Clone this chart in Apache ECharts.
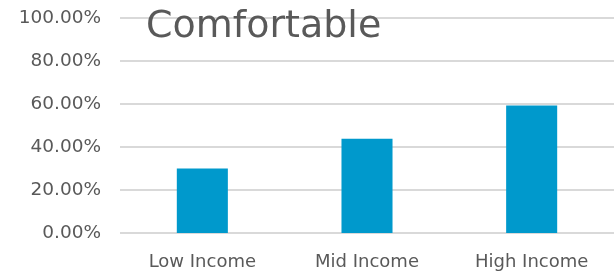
<!DOCTYPE html>
<html><head><meta charset="utf-8">
<script src="https://cdn.jsdelivr.net/npm/echarts@6/dist/echarts.min.js"></script>
<style>html,body{margin:0;padding:0;background:#fff}#c{width:614px;height:271px}</style>
</head><body><div id="c"></div>
<script>
const categories = ['Low Income', 'Mid Income', 'High Income'];
const values = [0.30, 0.438, 0.593];
const yMax = 1;
const yInterval = 0.2;
const chart = echarts.init(document.getElementById('c'));
chart.setOption({
  animation: false,
  title: {
    text: 'Comfortable', left: 141, top: 3,
    textStyle: { fontFamily: 'DejaVu Sans', fontSize: 38, fontWeight: 'normal', color: '#595959' }
  },
  grid: { left: 120, right: 0, top: 18, bottom: 38, containLabel: false },
  xAxis: {
    type: 'category', data: categories,
    axisLine: { show: false }, axisTick: { show: false },
    axisLabel: { fontFamily: 'DejaVu Sans', fontSize: 18, color: '#595959', margin: 20 }
  },
  yAxis: {
    type: 'value', min: 0, max: yMax, interval: yInterval,
    axisLine: { show: false }, axisTick: { show: false },
    splitLine: { lineStyle: { color: '#d9d9d9', width: 2 } },
    axisLabel: { fontFamily: 'DejaVu Sans', fontSize: 18.5, color: '#595959', margin: 19,
      formatter: v => (v * 100).toFixed(2) + '%' }
  },
  series: [{
    type: 'bar', data: values, barWidth: '31%', z: 1,
    itemStyle: { color: '#0099CC' }
  }]
});
</script></body></html>
